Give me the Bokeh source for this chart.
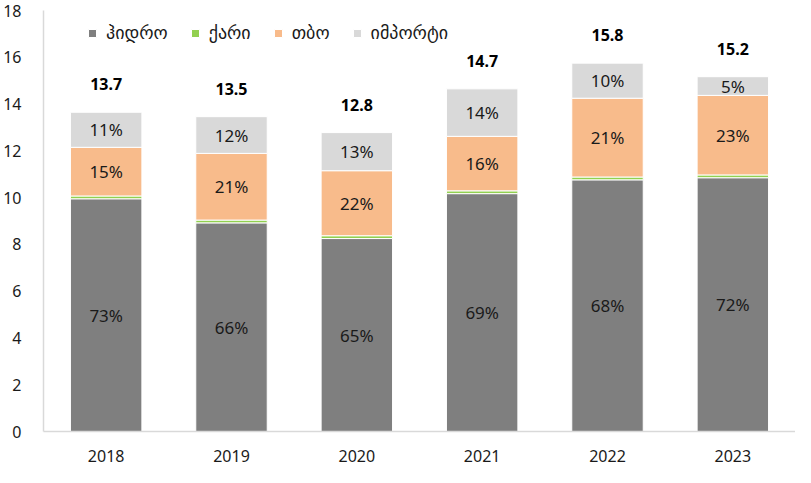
from bokeh.plotting import figure
from bokeh.models import FactorRange, Range1d, ColumnDataSource, FixedTicker
from bokeh.embed import file_html
from bokeh.resources import INLINE
from bokeh.core.properties import value
import numpy as np

years = ["2018", "2019", "2020", "2021", "2022", "2023"]
hydro = [9.95, 8.92, 8.25, 10.17, 10.76, 10.85]
wind = [0.12, 0.12, 0.12, 0.12, 0.12, 0.12]
tpp = [2.08, 2.85, 2.78, 2.33, 3.37, 3.40]
imports = [1.50, 1.57, 1.63, 2.03, 1.50, 0.80]
total_labels = ["13.7", "13.5", "12.8", "14.7", "15.8", "15.2"]
hydro_pct = ["73%", "66%", "65%", "69%", "68%", "72%"]
tpp_pct = ["15%", "21%", "22%", "16%", "21%", "23%"]
imp_pct = ["11%", "12%", "13%", "14%", "10%", "5%"]
series_names = ["ჰიდრო", "ქარი", "თბო", "იმპორტი"]
colors = ["#7f7f7f", "#92d050", "#f8bb8b", "#d9d9d9"]

NUM_FONT = "Noto Sans"
GEO_FONT = "DejaVu Sans"

src = ColumnDataSource(dict(year=years, hydro=hydro, wind=wind, tpp=tpp, imp=imports))

p = figure(x_range=FactorRange(*years, range_padding=0), y_range=Range1d(0, 18),
           width=795, height=467, output_backend="svg", toolbar_location=None,
           min_border_left=38, min_border_right=0, min_border_top=10, min_border_bottom=36)

p.vbar_stack(["hydro", "wind", "tpp", "imp"], x="year", width=0.57, color=colors,
             line_color="white", line_width=1, source=src, legend_label=series_names)

h = np.array(hydro); w = np.array(wind); t = np.array(tpp); im = np.array(imports)
lab_x = years * 3
lab_y = list(h / 2) + list(h + w + t / 2) + list(h + w + t + im / 2)
lab_t = hydro_pct + tpp_pct + imp_pct
p.text(x=lab_x, y=lab_y, text=lab_t, text_align="center", text_baseline="middle",
       text_font=value(NUM_FONT), text_font_size="17px", text_color="#1a1a1a")

tops = h + w + t + im
p.text(x=years, y=list(tops + 1.2), text=total_labels, text_align="center", text_baseline="middle",
       text_font=value(NUM_FONT), text_font_size="16px", text_font_style="bold", text_color="#000000")

p.xgrid.visible = False
p.ygrid.visible = False
p.outline_line_color = None

p.yaxis.ticker = FixedTicker(ticks=list(range(0, 19, 2)))
for ax in (p.xaxis, p.yaxis):
    ax.axis_line_color = "#d9d9d9"
    ax.axis_line_width = 1.5
    ax.major_tick_line_color = None
    ax.minor_tick_line_color = None
    ax.major_label_text_font = NUM_FONT
    ax.major_label_text_font_size = "16px"
    ax.major_label_text_color = "#1a1a1a"
p.yaxis.major_label_standoff = 16
p.xaxis.major_label_standoff = 12

lg = p.legend[0]
lg.orientation = "horizontal"
lg.location = (44, 388)
lg.border_line_color = None
lg.background_fill_alpha = 0
lg.padding = 0
lg.margin = 0
lg.spacing = 22
lg.label_standoff = 9
lg.glyph_width = 10
lg.glyph_height = 10
lg.label_height = 20
lg.label_text_font = GEO_FONT
lg.label_text_font_size = "18px"
lg.label_text_color = "#1a1a1a"

open("out.html", "w").write(file_html(p, INLINE))
